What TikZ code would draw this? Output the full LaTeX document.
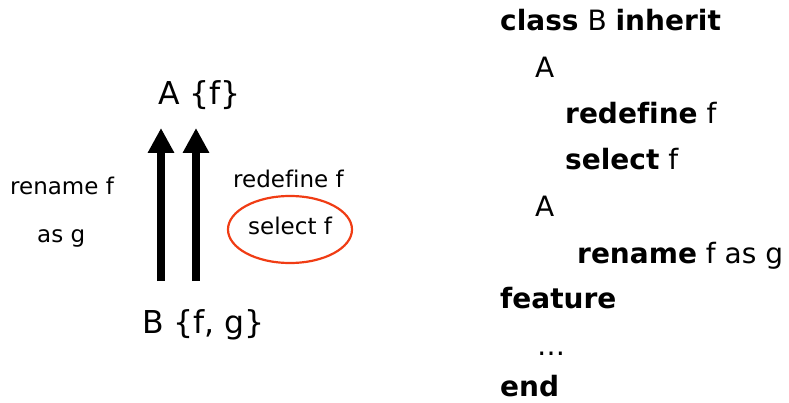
\documentclass[tikz,border=0pt]{standalone}
\usepackage{fontspec}
\setmainfont[Ligatures=NoCommon]{DejaVu Sans}
\usetikzlibrary{arrows.meta}
\definecolor{ellred}{RGB}{240,60,20}
\tikzset{
  big/.style={anchor=base west, inner sep=0pt, font=\fontsize{31.5}{34}\selectfont},
  cls/.style={anchor=base west, inner sep=0pt, font=\fontsize{28}{30}\selectfont},
  small/.style={anchor=base west, inner sep=0pt, font=\fontsize{23}{26}\selectfont},
  inharrow/.style={line width=8pt, -{Triangle[width=25pt,length=25pt]}},
}
\begin{document}
\begin{tikzpicture}[x=1pt,y=-1pt]
\useasboundingbox (0,0) rectangle (789,403);
% left diagram
\node[big] (A) at (158,105) {A \{f\}};
\node[big] (B) at (142,333) {B \{f, g\}};
\coordinate (b1) at (161,281);
\coordinate (t1) at (161,128);
\coordinate (b2) at (196,281);
\coordinate (t2) at (196,128);
\draw[inharrow] (b1) -- (t1);
\draw[inharrow] (b2) -- (t2);
\node[small] (ren) at (10,195) {rename f};
\node[small] (asg) at (37,243) {as g};
\node[small] (red) at (233,188) {redefine f};
\node[small] (sel) at (248,235) {select f};
\draw[ellred, line width=2.2pt] (290,229.5) ellipse [x radius=62, y radius=33.5];
% right code
\node[cls] (l1) at (500,31) {\textbf{class} B \textbf{inherit}};
\node[cls] (l2) at (535,78) {A};
\node[cls] (l3) at (565,124) {\textbf{redefine} f};
\node[cls] (l4) at (565,170) {\textbf{select} f};
\node[cls] (l5) at (535,217) {A};
\node[cls] (l6) at (577,263) {\textbf{rename} f as g};
\node[cls] (l7) at (500,308) {\textbf{feature}};
\node[cls] (l8) at (537,355) {…};
\node[cls] (l9) at (500,396) {\textbf{end}};
\end{tikzpicture}
\end{document}
